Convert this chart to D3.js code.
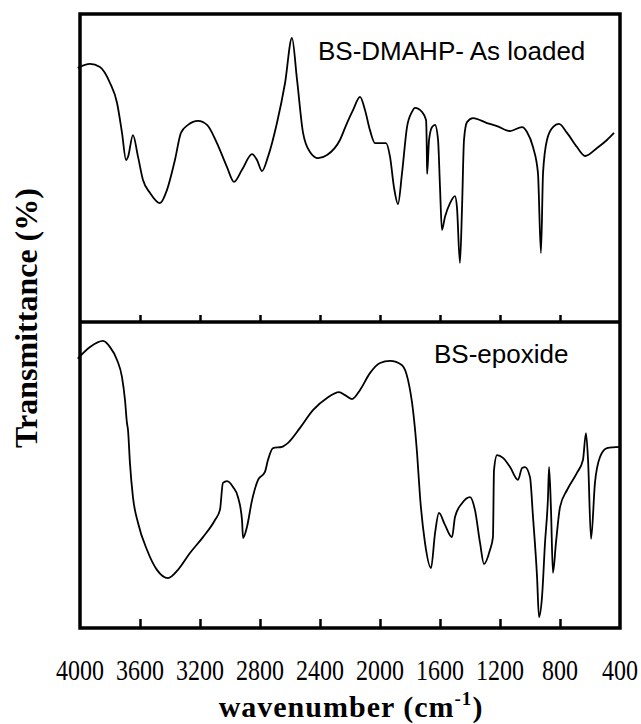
<!DOCTYPE html>
<html>
<head>
<meta charset="utf-8">
<script src="https://cdn.jsdelivr.net/npm/d3@7"></script>
<style>
  body { margin: 0; background: #fff; }
  svg { display: block; }
</style>
</head>
<body>
<div class="graph"></div>
<script>
// wavenumber (cm-1) and transmittance (arbitrary %, per panel)
var loadedWn = [4015, 3933, 3867, 3800, 3753, 3720, 3693, 3680, 3647, 3613, 3580, 3533, 3467, 3420, 3367, 3327, 3280, 3213, 3153, 3087, 3020, 2973, 2920, 2853, 2820, 2787, 2747, 2687, 2633, 2587, 2553, 2513, 2467, 2413, 2353, 2267, 2220, 2180, 2133, 2100, 2067, 2033, 2000, 1960, 1933, 1907, 1880, 1853, 1820, 1787, 1767, 1720, 1693, 1688, 1686, 1673, 1653, 1633, 1613, 1600, 1587, 1567, 1533, 1500, 1487, 1467, 1453, 1440, 1420, 1380, 1287, 1220, 1133, 1053, 1020, 980, 947, 927, 913, 887, 847, 807, 753, 687, 633, 553, 487, 440];
var loadedT = [82.5, 83.8, 82.8, 77.6, 71.1, 61.4, 52.6, 53.6, 60.7, 53.6, 46.1, 41.9, 38.6, 42.9, 52.6, 61.4, 64.0, 65.3, 64.0, 58.1, 50.3, 45.5, 49.4, 54.5, 52.6, 49.0, 53.6, 64.6, 77.6, 92.2, 78.6, 61.4, 55.2, 53.2, 54.2, 59.1, 64.6, 68.8, 73.1, 68.8, 62.3, 58.1, 58.1, 58.1, 53.6, 43.8, 38.3, 48.4, 63.3, 68.2, 69.5, 68.2, 65.6, 55.8, 48.1, 59.1, 63.3, 64.0, 59.1, 43.8, 29.9, 34.1, 38.6, 40.9, 37.3, 19.2, 37.3, 59.1, 64.9, 66.2, 64.6, 63.6, 62.0, 63.3, 61.7, 56.8, 48.4, 22.4, 48.4, 59.1, 63.3, 64.3, 61.4, 56.8, 53.9, 56.5, 59.1, 61.4];

var epoxideWn = [4015, 3933, 3847, 3800, 3753, 3720, 3700, 3687, 3680, 3667, 3647, 3613, 3553, 3487, 3413, 3347, 3267, 3180, 3100, 3067, 3047, 3020, 2980, 2947, 2920, 2913, 2887, 2853, 2813, 2767, 2747, 2713, 2653, 2613, 2533, 2447, 2353, 2273, 2233, 2187, 2133, 2067, 2000, 1933, 1853, 1813, 1780, 1753, 1733, 1700, 1660, 1633, 1607, 1567, 1520, 1500, 1453, 1400, 1367, 1333, 1307, 1267, 1247, 1240, 1220, 1180, 1133, 1080, 1053, 1033, 1000, 980, 953, 940, 920, 900, 880, 873, 860, 847, 827, 800, 753, 687, 647, 627, 613, 593, 567, 533, 487, 400];
var epoxideT = [88.0, 91.8, 93.8, 91.8, 87.6, 82.0, 74.5, 67.0, 64.7, 53.9, 42.8, 34.3, 25.5, 19.0, 16.3, 19.0, 24.5, 29.7, 35.3, 38.6, 47.4, 48.0, 46.1, 42.8, 35.3, 29.4, 33.0, 41.8, 48.4, 51.0, 54.9, 58.8, 59.2, 60.5, 65.4, 71.2, 75.2, 77.1, 76.1, 74.8, 77.8, 83.3, 86.6, 87.3, 85.9, 81.0, 71.2, 57.2, 42.8, 27.8, 19.6, 31.0, 37.6, 33.7, 29.7, 36.3, 40.8, 42.8, 38.6, 27.8, 20.9, 25.5, 29.7, 51.6, 56.5, 55.6, 52.6, 48.4, 52.3, 52.6, 49.3, 36.3, 16.7, 3.6, 10.1, 27.8, 42.8, 52.6, 38.6, 18.0, 27.8, 39.5, 45.1, 50.7, 54.9, 63.7, 54.9, 29.1, 47.4, 55.9, 58.8, 59.2];

var xTicks = [4000, 3600, 3200, 2800, 2400, 2000, 1600, 1200, 800, 400];
var panelLabels = ["BS-DMAHP- As loaded", "BS-epoxide"];

const WIDTH = 641;
const HEIGHT = 724;
const LEFT = 80, RIGHT = 620;
const TOP = 14, MID = 322, BOTTOM = 628;

var svg = d3.select(".graph").append("svg")
	.attr("width", WIDTH)
	.attr("height", HEIGHT);

var xScale = d3.scaleLinear().domain([4000, 400]).range([LEFT, RIGHT]);
var yTop = d3.scaleLinear().domain([0, 100]).range([MID, TOP]);
var yBottom = d3.scaleLinear().domain([0, 100]).range([BOTTOM, MID]);

var makeLine = function(y) {
	return d3.line()
		.x(function(d) { return xScale(d[0]); })
		.y(function(d) { return y(d[1]); })
		.curve(d3.curveMonotoneX);
};

var panels = [
	{ wn: loadedWn, t: loadedT, y: yTop, bottom: MID, tick: 7, label: panelLabels[0], lx: 318, ly: 60 },
	{ wn: epoxideWn, t: epoxideT, y: yBottom, bottom: BOTTOM, tick: 9, label: panelLabels[1], lx: 434, ly: 363 }
];

panels.forEach(function(p) {
	var pts = d3.zip(p.wn, p.t);
	svg.append("path")
		.attr("d", makeLine(p.y)(pts))
		.attr("fill", "none")
		.attr("stroke", "#000")
		.attr("stroke-width", 1.8)
		.attr("stroke-linejoin", "round");

	// inward ticks on the bottom edge of each panel
	var xAxis = d3.axisTop(xScale)
		.tickValues(xTicks.slice(1, -1))
		.tickSize(p.tick)
		.tickFormat("");
	var g = svg.append("g")
		.attr("transform", "translate(0," + p.bottom + ")")
		.call(xAxis);
	g.select(".domain").remove();
	g.selectAll(".tick line").attr("stroke-width", 2.5);

	svg.append("text")
		.attr("x", p.lx)
		.attr("y", p.ly)
		.attr("font-family", "Liberation Sans, Arial, sans-serif")
		.attr("font-size", 26)
		.text(p.label);
});

// frame and divider
svg.append("rect")
	.attr("x", LEFT).attr("y", TOP)
	.attr("width", RIGHT - LEFT).attr("height", BOTTOM - TOP)
	.attr("fill", "none").attr("stroke", "#000").attr("stroke-width", 3.5);
svg.append("line")
	.attr("x1", LEFT).attr("x2", RIGHT)
	.attr("y1", MID).attr("y2", MID)
	.attr("stroke", "#000").attr("stroke-width", 3.5);

// tick labels (the original font is a little narrow and tall)
svg.append("g").selectAll("text")
	.data(xTicks)
	.enter().append("text")
	.attr("transform", function(d) { return "translate(" + xScale(d) + ",680) scale(1,1.2)"; })
	.attr("text-anchor", "middle")
	.attr("font-family", "Liberation Serif, Times New Roman, serif")
	.attr("font-size", 24)
	.text(function(d) { return d; });

// axis titles
var xt = svg.append("text")
	.attr("x", 351)
	.attr("y", 717)
	.attr("text-anchor", "middle")
	.attr("font-family", "Liberation Serif, Times New Roman, serif")
	.attr("font-weight", "bold")
	.attr("font-size", 30)
	.attr("letter-spacing", 1);
xt.append("tspan").text("wavenumber (cm");
xt.append("tspan").attr("font-size", 19).attr("dy", -12).text("-1");
xt.append("tspan").attr("dy", 12).text(")");

svg.append("text")
	.attr("transform", "translate(37,318) rotate(-90)")
	.attr("text-anchor", "middle")
	.attr("font-family", "Liberation Serif, Times New Roman, serif")
	.attr("font-weight", "bold")
	.attr("font-size", 32)
	.text("Transmittance (%)");
</script>
</body>
</html>
